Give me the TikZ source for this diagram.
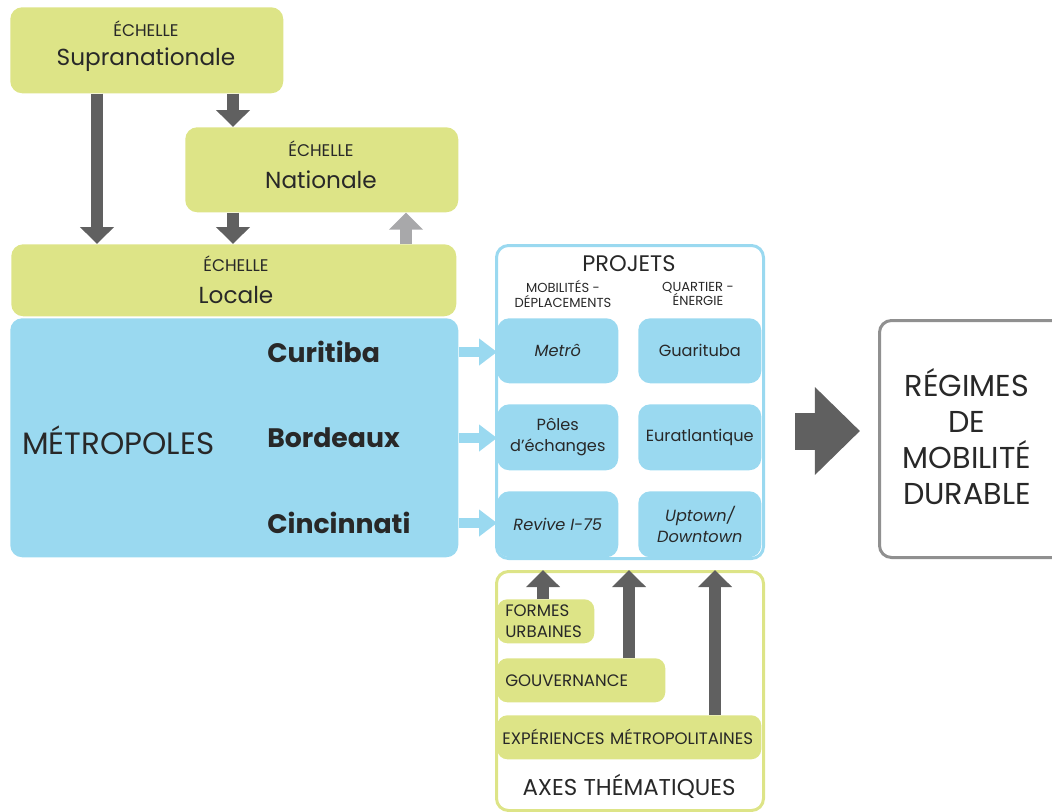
\documentclass[tikz,border=0pt]{standalone}
\usepackage{fontspec}
\setmainfont{Poppins}
\usetikzlibrary{positioning}
\usetikzlibrary{arrows.meta}
\definecolor{echgreen}{RGB}{221,228,135}
\definecolor{metblue}{RGB}{154,217,240}
\definecolor{arrgrey}{RGB}{96,96,96}
\definecolor{pale}{RGB}{168,168,170}
\definecolor{boxgrey}{RGB}{144,144,144}
\definecolor{ink}{RGB}{40,40,40}

\begin{document}
\begin{tikzpicture}[x=0.025cm,y=-0.025cm,every node/.style={text=ink},
  sz/.style 2 args={minimum width=#1*0.025cm,minimum height=#2*0.025cm},
  echbox/.style={fill=echgreen,rounded corners=0.3cm,anchor=north west,inner sep=0pt},
  projbox/.style={fill=metblue,rounded corners=0.3cm,anchor=north west,inner sep=0pt,align=center,font=\fontsize{11.5}{15}\selectfont},
  axebox/.style={fill=echgreen,rounded corners=0.25cm,anchor=north west,inner ysep=0pt,inner xsep=0.2cm,align=left,font=\fontsize{11.8}{14.5}\selectfont},
  frame/.style={rounded corners=0.3cm,anchor=north west,line width=0.075cm,inner sep=0pt},
  echtxt/.style={font=\fontsize{12}{14}\selectfont},
  echname/.style={font=\fontsize{16.5}{19}\selectfont},
  city/.style={anchor=west,inner xsep=0pt,font=\bfseries\fontsize{19}{22}\selectfont},
  coltxt/.style={align=center,font=\fontsize{9.3}{10.5}\selectfont},
  darr/.style={draw=arrgrey,line width=0.3cm,-{Triangle[width=0.825cm,length=0.425cm]}},
  barr/.style={draw=metblue,line width=0.25cm,-{Triangle[width=0.65cm,length=0.45cm]}}]
\useasboundingbox (0,0) rectangle (1052,811);

% echelles
\node[echbox,sz={273}{86}](supra) at (10,7){};
\node[echtxt](supraA) at (146,29){ÉCHELLE};
\node[echname](supraB) at (146,60){Supranationale};
\node[echbox,sz={273}{85}](nat) at (185,127){};
\node[echtxt](natA) at (321,149){ÉCHELLE};
\node[echname](natB) at (321,180){Nationale};
\node[echbox,sz={445}{72}](loc) at (11,244){};
\node[echtxt](locA) at (236,264){ÉCHELLE};
\node[echname](locB) at (236,295){Locale};

\draw[darr](supra.south -| 97,0) -- (loc.north -| 97,0);
\draw[darr](supra.south -| 233,0) -- (nat.north -| 233,0);
\draw[darr](nat.south -| 233,0) -- (loc.north -| 233,0);
\draw[darr,draw=pale](loc.north -| 406,0) -- (nat.south -| 406,0);

% metropoles
\node[fill=metblue,rounded corners=0.3cm,anchor=north west,inner sep=0pt,sz={448}{239}](metro) at (10,318){};
\node[anchor=west,inner xsep=0pt,font=\fontsize{22}{24}\selectfont](metroT) at (22,440){MÉTROPOLES};
\node[city](curitiba) at (267,352){Curitiba};
\node[city](bordeaux) at (267,438){Bordeaux};
\node[city](cincinnati) at (267,523){Cincinnati};

% projets
\node[frame,draw=metblue,sz={267}{313}](projets) at (495,244){};
\node[font=\fontsize{16}{18}\selectfont](projT) at (629,264){PROJETS};
\node[coltxt](colA) at (563,294){MOBILITÉS -\\DÉPLACEMENTS};
\node[coltxt](colB) at (698,294){QUARTIER -\\ÉNERGIE};
\node[projbox,sz={121}{65}](metrob) at (497,318){\itshape Metrô};
\node[projbox,sz={123}{65}](guari) at (638,318){Guarituba};
\node[projbox,sz={121}{66}](poles) at (497,404){Pôles\\d’échanges};
\node[projbox,sz={123}{66}](eura) at (638,404){Euratlantique};
\node[projbox,sz={121}{66}](revive) at (497,491){\itshape Revive I-75};
\node[projbox,sz={123}{66}](uptown) at (638,491){\itshape Uptown/\\\itshape Downtown};

\draw[barr](metro.east |- curitiba) -- (metrob.west |- curitiba);
\draw[barr](metro.east |- bordeaux) -- (poles.west |- bordeaux);
\draw[barr](metro.east |- cincinnati) -- (revive.west |- cincinnati);

% axes thematiques
\node[frame,draw=echgreen,sz={267}{239}](axes) at (495,570){};
\node[axebox,text width=81*0.025cm,minimum height=44*0.025cm](formes) at (497,599){FORMES\\URBAINES};
\node[axebox,text width=152*0.025cm,minimum height=44*0.025cm](gouv) at (497,658){GOUVERNANCE};
\node[axebox,inner xsep=0.125cm,text width=254*0.025cm,minimum height=44*0.025cm](exper) at (497,715){EXPÉRIENCES MÉTROPOLITAINES};
\node[font=\fontsize{16.3}{18}\selectfont](axesT) at (629,786){AXES THÉMATIQUES};

\draw[darr](formes.north -| 543,0) -- (axes.north -| 543,0);
\draw[darr](gouv.north -| 629,0) -- (axes.north -| 629,0);
\draw[darr](exper.north -| 715,0) -- (axes.north -| 715,0);

% regimes
\node[frame,draw=boxgrey,sz={200}{237}](regimes) at (878,319){};
\node[align=center,font=\fontsize{21.5}{25.6}\selectfont](regT) at (967,437){RÉGIMES\\DE\\MOBILITÉ\\DURABLE};
\draw[draw=arrgrey,line width=0.925cm,-{Triangle[width=2.125cm,length=1.125cm]},shorten <=0.75cm,shorten >=0.45cm](projets.east |- 0,431) -- (regimes.west |- 0,431);
\end{tikzpicture}
\end{document}
